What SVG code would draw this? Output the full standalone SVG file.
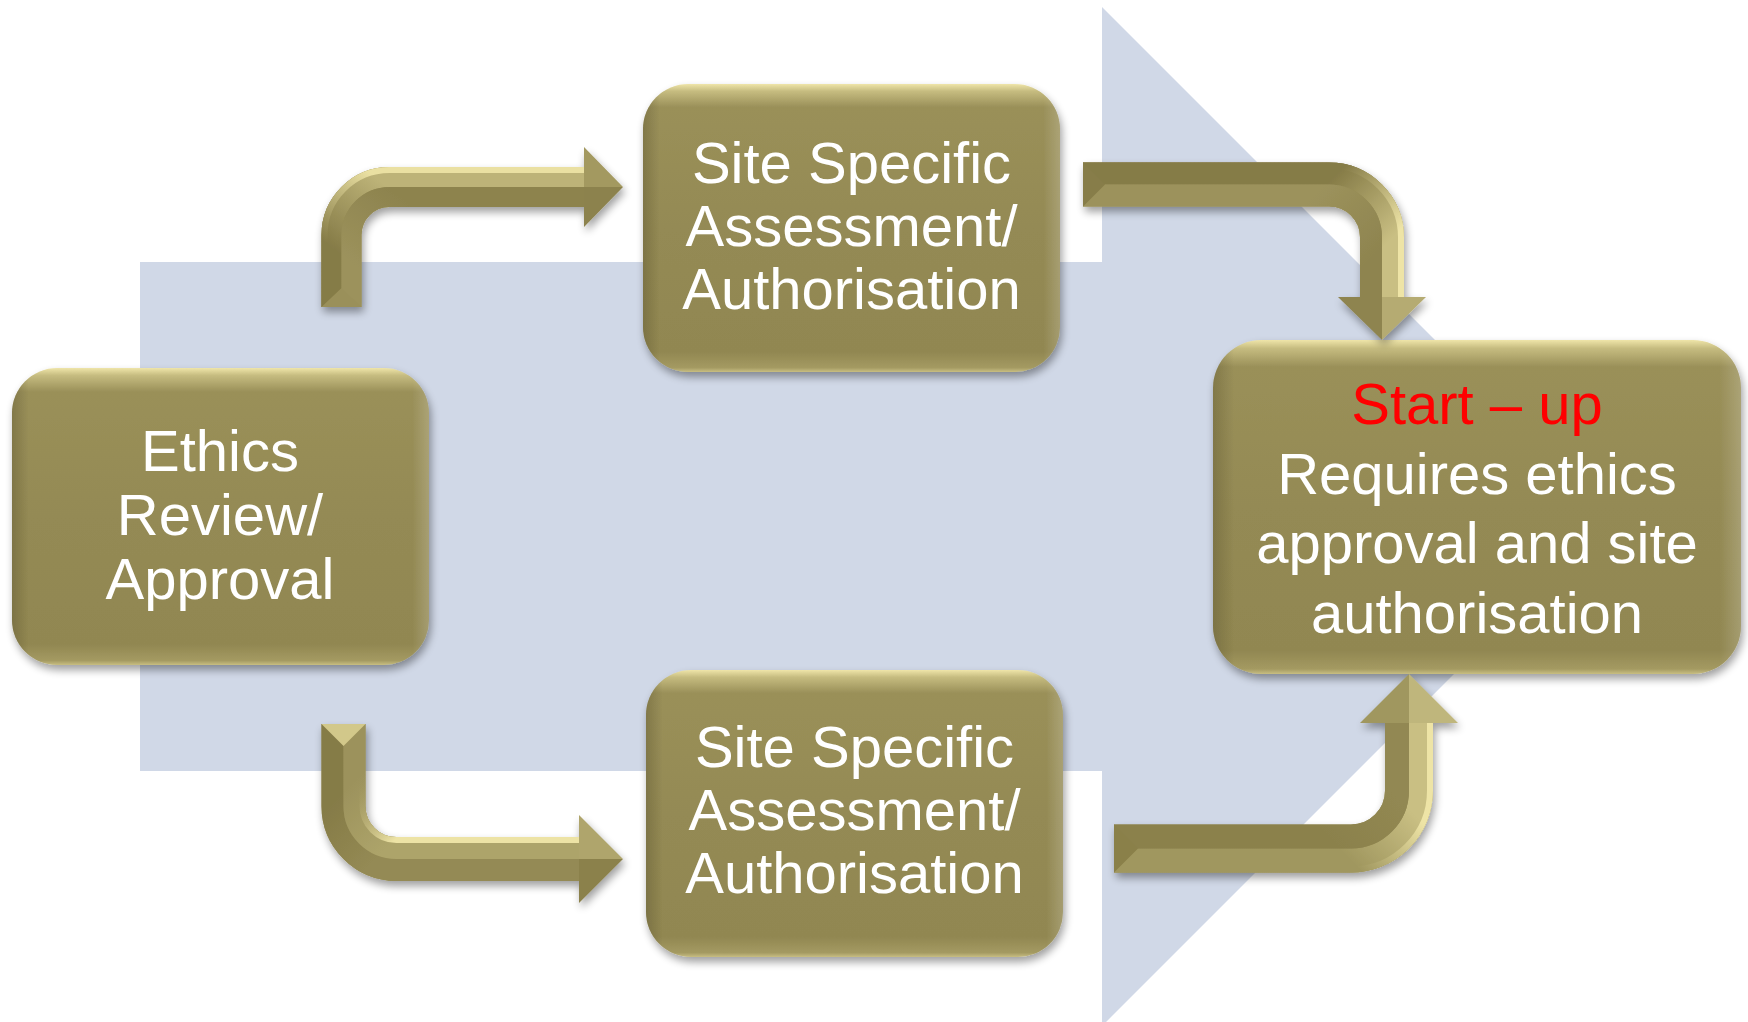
<svg xmlns="http://www.w3.org/2000/svg" width="1748" height="1022" viewBox="0 0 1748 1022">
  <style>
    .box { fill: url(#nodeV); }
    .boxEdge { fill: url(#nodeH); }
    .lbl { font-family: "Liberation Sans", Arial, sans-serif; font-size: 58px; fill: #FFFFFF; text-anchor: middle; }
    .red { fill: #FF0000; }
    .shaft { fill: none; stroke-linecap: butt; stroke-linejoin: miter; }
  </style>
  <defs>
    <filter id="shadow" x="-10%" y="-10%" width="125%" height="130%">
      <feGaussianBlur in="SourceAlpha" stdDeviation="4"/>
      <feOffset dx="2" dy="5"/>
      <feComponentTransfer><feFuncA type="linear" slope="0.38"/></feComponentTransfer>
      <feMerge><feMergeNode/><feMergeNode in="SourceGraphic"/></feMerge>
    </filter>
    <!-- box bevel: bright top rim, plain body, light bottom rim -->
    <linearGradient id="nodeV" x1="0" y1="0" x2="0" y2="1">
      <stop offset="0" stop-color="#EFE5A9"/>
      <stop offset="0.025" stop-color="#C6BC80"/>
      <stop offset="0.08" stop-color="#9A9059"/>
      <stop offset="0.5" stop-color="#948A54"/>
      <stop offset="0.93" stop-color="#918751"/>
      <stop offset="0.985" stop-color="#A49A62"/>
      <stop offset="1" stop-color="#C8BE82"/>
    </linearGradient>
    <linearGradient id="nodeH" x1="0" y1="0" x2="1" y2="0">
      <stop offset="0" stop-color="#4A4326" stop-opacity="0.3"/>
      <stop offset="0.04" stop-color="#4A4326" stop-opacity="0"/>
      <stop offset="0.96" stop-color="#FFFFFF" stop-opacity="0"/>
      <stop offset="1" stop-color="#FFFFFF" stop-opacity="0.18"/>
    </linearGradient>

    <!-- bent arrow facets, blended across each corner -->
    <linearGradient id="a1o" gradientUnits="userSpaceOnUse" x1="335" y1="250" x2="385" y2="185">
      <stop offset="0" stop-color="#857B47"/><stop offset="1" stop-color="#BDB378"/>
    </linearGradient>
    <linearGradient id="a1e" gradientUnits="userSpaceOnUse" x1="335" y1="250" x2="385" y2="185">
      <stop offset="0" stop-color="#857B47"/><stop offset="1" stop-color="#EAE0A2"/>
    </linearGradient>
    <linearGradient id="a1i" gradientUnits="userSpaceOnUse" x1="335" y1="250" x2="385" y2="185">
      <stop offset="0" stop-color="#9C925C"/><stop offset="1" stop-color="#8D834E"/>
    </linearGradient>

    <linearGradient id="a2o" gradientUnits="userSpaceOnUse" x1="1340" y1="170" x2="1400" y2="230">
      <stop offset="0" stop-color="#857B47"/><stop offset="1" stop-color="#C9BF83"/>
    </linearGradient>
    <linearGradient id="a2e" gradientUnits="userSpaceOnUse" x1="1340" y1="170" x2="1400" y2="230">
      <stop offset="0" stop-color="#857B47"/><stop offset="1" stop-color="#EEE4A6"/>
    </linearGradient>
    <linearGradient id="a2i" gradientUnits="userSpaceOnUse" x1="1340" y1="170" x2="1400" y2="230">
      <stop offset="0" stop-color="#9C925C"/><stop offset="1" stop-color="#8E844F"/>
    </linearGradient>

    <linearGradient id="a3o" gradientUnits="userSpaceOnUse" x1="335" y1="800" x2="385" y2="850">
      <stop offset="0" stop-color="#857B47"/><stop offset="1" stop-color="#948A54"/>
    </linearGradient>
    <linearGradient id="a3i" gradientUnits="userSpaceOnUse" x1="335" y1="800" x2="385" y2="850">
      <stop offset="0" stop-color="#9C925C"/><stop offset="1" stop-color="#ADA46A"/>
    </linearGradient>
    <linearGradient id="a3h" gradientUnits="userSpaceOnUse" x1="335" y1="800" x2="385" y2="850">
      <stop offset="0" stop-color="#9C925C" stop-opacity="0"/><stop offset="1" stop-color="#EDE3A5"/>
    </linearGradient>

    <linearGradient id="a4o" gradientUnits="userSpaceOnUse" x1="1355" y1="865" x2="1410" y2="810">
      <stop offset="0" stop-color="#A0975F"/><stop offset="1" stop-color="#C9BF83"/>
    </linearGradient>
    <linearGradient id="a4e" gradientUnits="userSpaceOnUse" x1="1355" y1="865" x2="1410" y2="810">
      <stop offset="0" stop-color="#A0975F"/><stop offset="1" stop-color="#EEE4A6"/>
    </linearGradient>
    <linearGradient id="a4i" gradientUnits="userSpaceOnUse" x1="1355" y1="865" x2="1410" y2="810">
      <stop offset="0" stop-color="#8B814C"/><stop offset="1" stop-color="#928852"/>
    </linearGradient>
  </defs>

  <rect width="1748" height="1022" fill="#FFFFFF"/>

  <!-- large pale block arrow behind the flow -->
  <polygon id="backdrop" points="140,262 1102,262 1102,7 1611.5,516.5 1102,1026 1102,771 140,771" fill="#D0D8E7"/>

  <!-- boxes -->
  <g id="ethics" filter="url(#shadow)">
    <rect class="box" x="12" y="368" width="417" height="297" rx="45"/>
    <rect class="boxEdge" x="12" y="368" width="417" height="297" rx="45"/>
    <text class="lbl" x="220" y="471">Ethics</text>
    <text class="lbl" x="220" y="535">Review/</text>
    <text class="lbl" x="220" y="599">Approval</text>
  </g>

  <g id="ssa-top" filter="url(#shadow)">
    <rect class="box" x="643" y="84" width="417" height="288" rx="45"/>
    <rect class="boxEdge" x="643" y="84" width="417" height="288" rx="45"/>
    <text class="lbl" x="851.5" y="183">Site Specific</text>
    <text class="lbl" x="851.5" y="246">Assessment/</text>
    <text class="lbl" x="851.5" y="309">Authorisation</text>
  </g>

  <g id="ssa-bottom" filter="url(#shadow)">
    <rect class="box" x="646" y="670" width="417" height="287" rx="45"/>
    <rect class="boxEdge" x="646" y="670" width="417" height="287" rx="45"/>
    <text class="lbl" x="854.5" y="767">Site Specific</text>
    <text class="lbl" x="854.5" y="830">Assessment/</text>
    <text class="lbl" x="854.5" y="893">Authorisation</text>
  </g>

  <g id="startup" filter="url(#shadow)">
    <rect class="box" x="1213" y="340" width="528" height="334" rx="48"/>
    <rect class="boxEdge" x="1213" y="340" width="528" height="334" rx="48"/>
    <text class="lbl red" x="1477" y="424">Start – up</text>
    <text class="lbl" x="1477" y="494">Requires ethics</text>
    <text class="lbl" x="1477" y="563">approval and site</text>
    <text class="lbl" x="1477" y="633">authorisation</text>
  </g>

  <!-- bent bevelled arrows -->
  <g id="connectors">
    <!-- ethics -> upper site assessment -->
    <g id="arrow-ethics-ssa-top" filter="url(#shadow)">
      <path class="shaft" d="M341.5,307 V235 A48,48 0 0 1 389.5,187 H584" stroke="#948A54" stroke-width="40"/>
      <path class="shaft" d="M331.5,307 V235 A58,58 0 0 1 389.5,177 H584" stroke="url(#a1o)" stroke-width="20"/>
      <path class="shaft" d="M351.5,307 V235 A38,38 0 0 1 389.5,197 H584" stroke="url(#a1i)" stroke-width="20"/>
      <path class="shaft" d="M324.5,307 V235 A65,65 0 0 1 389.5,170 H584" stroke="url(#a1e)" stroke-width="6"/>
      <polygon points="321.5,307 361.5,307 341.5,288" fill="#9A905A"/>
      <polygon points="584,147 623,187 584,187" fill="#A39960"/>
      <polygon points="584,227 623,187 584,187" fill="#8C824D"/>
    </g>

    <!-- upper site assessment -> start-up -->
    <g id="arrow-ssa-top-startup" filter="url(#shadow)">
      <path class="shaft" d="M1083,184.5 H1329 A53,53 0 0 1 1382,237.5 V297" stroke="#948A54" stroke-width="44"/>
      <path class="shaft" d="M1083,173.5 H1329 A64,64 0 0 1 1393,237.5 V297" stroke="url(#a2o)" stroke-width="22"/>
      <path class="shaft" d="M1083,195.5 H1329 A42,42 0 0 1 1371,237.5 V297" stroke="url(#a2i)" stroke-width="22"/>
      <path class="shaft" d="M1083,165.5 H1329 A72,72 0 0 1 1401,237.5 V297" stroke="url(#a2e)" stroke-width="6"/>
      <polygon points="1083,162.5 1083,206.5 1105,184.5" fill="#877D49"/>
      <polygon points="1338,297 1382,340 1382,297" fill="#8E844F"/>
      <polygon points="1426,297 1382,340 1382,297" fill="#B5AB72"/>
    </g>

    <!-- ethics -> lower site assessment -->
    <g id="arrow-ethics-ssa-bottom" filter="url(#shadow)">
      <path class="shaft" d="M343.5,724 V806 A53,53 0 0 0 396.5,859 H579" stroke="#948A54" stroke-width="44"/>
      <path class="shaft" d="M332.5,724 V806 A64,64 0 0 0 396.5,870 H579" stroke="url(#a3o)" stroke-width="22"/>
      <path class="shaft" d="M354.5,724 V806 A42,42 0 0 0 396.5,848 H579" stroke="url(#a3i)" stroke-width="22"/>
      <path class="shaft" d="M362.5,724 V806 A34,34 0 0 0 396.5,840 H579" stroke="url(#a3h)" stroke-width="6"/>
      <polygon points="321.5,724 365.5,724 343.5,746" fill="#D2C88A"/>
      <polygon points="579,815 623,859 579,859" fill="#AFA56C"/>
      <polygon points="579,903 623,859 579,859" fill="#8B814C"/>
    </g>

    <!-- lower site assessment -> start-up -->
    <g id="arrow-ssa-bottom-startup" filter="url(#shadow)">
      <path class="shaft" d="M1114,848.5 H1351 A58,58 0 0 0 1409,790.5 V723" stroke="#948A54" stroke-width="48"/>
      <path class="shaft" d="M1114,860.5 H1351 A70,70 0 0 0 1421,790.5 V723" stroke="url(#a4o)" stroke-width="24"/>
      <path class="shaft" d="M1114,836.5 H1351 A46,46 0 0 0 1397,790.5 V723" stroke="url(#a4i)" stroke-width="24"/>
      <path class="shaft" d="M1114,869.5 H1351 A79,79 0 0 0 1430,790.5 V723" stroke="url(#a4e)" stroke-width="6"/>
      <polygon points="1114,824.5 1114,872.5 1138,848.5" fill="#8A8049"/>
      <polygon points="1360,723 1409,674 1409,723" fill="#A0975F"/>
      <polygon points="1458,723 1409,674 1409,723" fill="#BFB67B"/>
    </g>
  </g>
</svg>
